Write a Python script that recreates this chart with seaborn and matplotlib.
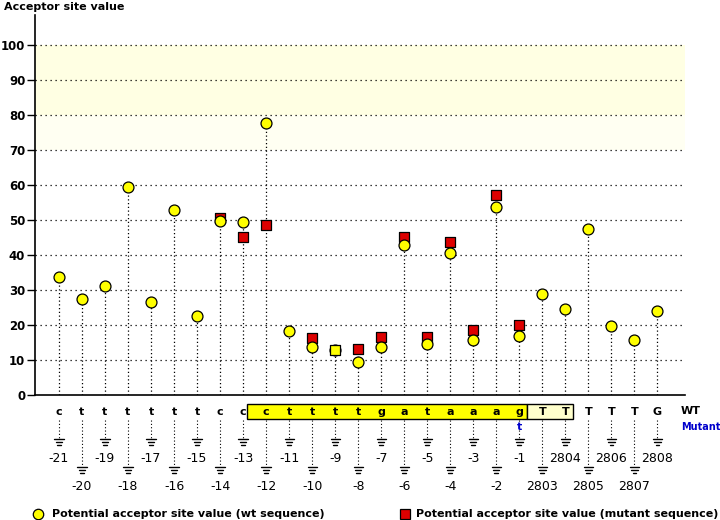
import numpy as np
import pandas as pd
import seaborn as sns
import matplotlib.pyplot as plt
from matplotlib.transforms import blended_transform_factory
from matplotlib.patches import Rectangle

# sequence around the splice site
positions = ["-21", "-20", "-19", "-18", "-17", "-16", "-15", "-14", "-13",
             "-12", "-11", "-10", "-9", "-8", "-7", "-6", "-5", "-4", "-3", "-2", "-1",
             "2803", "2804", "2805", "2806", "2807", "2808"]
wt_bases = ["c", "t", "t", "t", "t", "t", "t", "c", "c",
            "c", "t", "t", "t", "t", "g", "a", "t", "a", "a", "a", "g",
            "T", "T", "T", "T", "T", "G"]
mutant_bases = [""] * 20 + ["t"] + [""] * 6
wt_values = [33.8, 27.5, 31.2, 59.5, 26.7, 52.9, 22.7, 49.8, 49.5,
             77.8, 18.4, 13.8, 12.9, 9.5, 13.8, 42.9, 14.7, 40.7, 15.7, 53.8, 16.9,
             28.9, 24.7, 47.4, 19.8, 15.7, 24.1]
mut_values = [np.nan] * 7 + [50.6, 45.2,
              48.6, np.nan, 16.4, 12.9, 13.1, 16.7, 45.2, 16.7, 43.8, 18.6, 57.2, 20.0] + [np.nan] * 6

df = pd.DataFrame({"pos": np.arange(len(positions)), "wt": wt_values, "mut": mut_values})

sns.set_style("white")
plt.rcParams["text.color"] = "black"
plt.rcParams["ytick.color"] = "black"
fig = plt.figure(figsize=(7.2, 5.2), dpi=100)
ax = fig.add_axes([35 / 720, 1 - 395 / 520, 650 / 720, 380 / 520])

def fy(px):
    return 1 - px / 520

ax.set_xlim(-1.04, 27.2)
ax.set_ylim(0, 108.6)

# shaded bands
ax.axhspan(80, 100, color="#FFFFE3", zorder=0, lw=0)
ax.axhspan(70, 80, color="#FFFFF2", zorder=0, lw=0)
for g in range(10, 101, 10):
    ax.axhline(g, color="black", ls=(0, (1, 3)), lw=0.9, zorder=1)

# stems
stem_top = df[["wt", "mut"]].max(axis=1)
ax.vlines(df["pos"], 0, stem_top, colors="black", linestyles=(0, (1, 2)), lw=0.9, zorder=2)

mut = df.dropna(subset=["mut"])
same = mut["mut"] == mut["wt"]
sns.scatterplot(data=mut[~same], x="pos", y="mut", marker="s", s=55, color="#DD0000",
                edgecolor="black", linewidth=0.9, zorder=3, ax=ax)
sns.scatterplot(data=df, x="pos", y="wt", marker="o", s=62, color="#FFFF00",
                edgecolor="black", linewidth=0.9, zorder=4, ax=ax)
sns.scatterplot(data=mut[same], x="pos", y="mut", marker="s", s=55, color="#FFFF00",
                edgecolor="black", linewidth=0.9, zorder=5, ax=ax)

ax.set_xlabel("")
ax.set_ylabel("")
ax.set_xticks([])
ax.set_yticks(range(0, 101, 10))
ax.set_yticklabels([str(v) for v in range(0, 101, 10)], fontsize=8.5, fontweight="bold")
ax.tick_params(axis="y", length=6, width=1, direction="out", left=True, pad=1, color="black")
for s in ["top", "right"]:
    ax.spines[s].set_visible(False)
for s in ["left", "bottom"]:
    ax.spines[s].set_color("black")
    ax.spines[s].set_linewidth(1.2)

fig.text(4 / 720, fy(7), "Acceptor site value", fontsize=8, fontweight="bold", va="center")

# sequence strip below the axis
tr = blended_transform_factory(ax.transData, fig.transFigure)
ax.add_patch(Rectangle((8.18, fy(419)), 12.17, (419 - 404) / 520, transform=tr,
                       facecolor="#FFFF00", edgecolor="black", lw=1, clip_on=False))
ax.add_patch(Rectangle((20.35, fy(419)), 2.0, (419 - 404) / 520, transform=tr,
                       facecolor="#FFFFCC", edgecolor="black", lw=1, clip_on=False))

for i, (lab, b, mb) in enumerate(zip(positions, wt_bases, mutant_bases)):
    ax.text(i, fy(412), b, transform=tr, ha="center", va="center", fontsize=8, fontweight="bold")
    if mb:
        ax.text(i, fy(427), mb, transform=tr, ha="center", va="center", fontsize=8,
                fontweight="bold", color="#0000CC")
    g0 = 439 if i % 2 == 0 else 467
    ax.plot([i, i], [fy(420), fy(g0)], transform=tr, color="black", ls=(0, (1, 2)), lw=0.8,
            clip_on=False)
    for k, hw in enumerate([0.2, 0.14, 0.08]):
        yy = fy(g0 + k * 3)
        ax.plot([i - hw, i + hw], [yy, yy], transform=tr, color="black", lw=1, clip_on=False)
    ax.text(i, fy(g0 + 19), lab, transform=tr, ha="center", va="center", fontsize=9)

fig.text(681 / 720, fy(411), "WT", fontsize=8, fontweight="bold", va="center")
fig.text(681 / 720, fy(427), "Mutant", fontsize=7, fontweight="bold", va="center", color="#0000CC")

# legend
fig.lines.append(plt.Line2D([38 / 720], [fy(514)], marker="o", ms=7.5, mfc="#FFFF00", mec="black",
                            mew=0.9, transform=fig.transFigure))
fig.text(52 / 720, fy(514), "Potential acceptor site value (wt sequence)", fontsize=8,
         fontweight="bold", va="center")
fig.lines.append(plt.Line2D([405 / 720], [fy(514)], marker="s", ms=7, mfc="#DD0000", mec="black",
                            mew=0.9, transform=fig.transFigure))
fig.text(416 / 720, fy(514), "Potential acceptor site value (mutant sequence)", fontsize=8,
         fontweight="bold", va="center")

fig.savefig("out.png", dpi=100)
